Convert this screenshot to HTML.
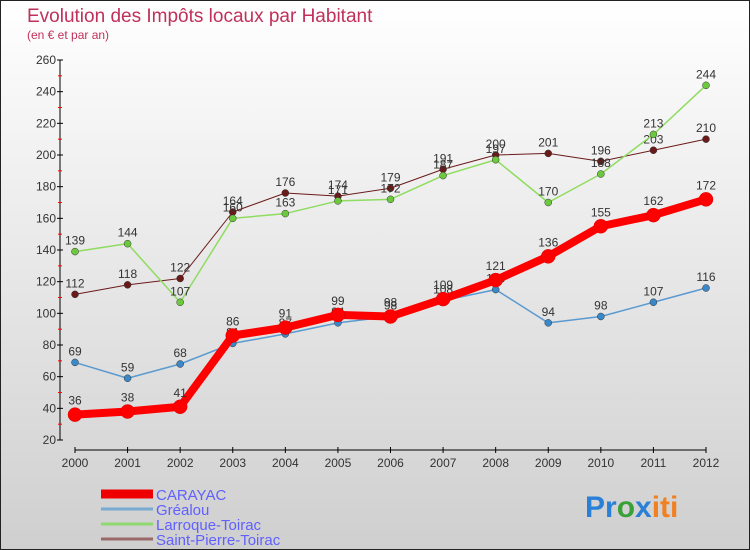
<!DOCTYPE html>
<html><head><meta charset="utf-8"><style>
html,body{margin:0;padding:0}
body{width:750px;height:550px;overflow:hidden;font-family:"Liberation Sans",sans-serif}
#wrap{position:relative;width:748px;height:548px;border:1px solid #222;background:linear-gradient(#ffffff,#cfcfcf)}
svg{position:absolute;left:0;top:0}
</style></head><body>
<div id="wrap">
<svg id="c" width="748" height="548">
<text x="26" y="21" font-size="19" fill="#c0305a">Evolution des Impôts locaux par Habitant</text>
<text x="26" y="38" font-size="12" fill="#c0305a">(en € et par an)</text>
<g id="axes"></g><g id="series"></g><g id="legend"></g>
<text x="584" y="516" font-size="30" font-weight="bold"><tspan fill="#2a7fd6">Pr</tspan><tspan fill="#3aa03a">o</tspan><tspan fill="#2a7fd6">x</tspan><tspan fill="#f08020">iti</tspan></text>
</svg></div>
<script>
const years=[2000,2001,2002,2003,2004,2005,2006,2007,2008,2009,2010,2011,2012];
const yTicks=[20,40,60,80,100,120,140,160,180,200,220,240,260];
const carayac=[36,38,41,86,91,99,98,109,121,136,155,162,172];
const grealou=[69,59,68,81,87,94,98,108,115,94,98,107,116];
const larroque=[139,144,107,160,163,171,172,187,197,170,188,213,244];
const stpierre=[112,118,122,164,176,174,179,191,200,201,196,203,210];
const names=["CARAYAC","Gréalou","Larroque-Toirac","Saint-Pierre-Toirac"];
const NS="http://www.w3.org/2000/svg";
const X=i=>74+i*(631/12);
const Y=v=>59+(260-v)*(380/240);
function mk(t,a,p){const e=document.createElementNS(NS,t);for(const k in a)e.setAttribute(k,a[k]);p.appendChild(e);return e;}
const ax=document.getElementById('axes');
const yl=mk('line',{x1:59,y1:Y(260),x2:59,y2:Y(20),stroke:'#000'},ax);


yTicks.forEach((v,i)=>{
 mk('line',{x1:56,y1:Y(v),x2:62,y2:Y(v),stroke:'#000'},ax);
 if(i<yTicks.length-1) mk('line',{x1:57,y1:Y(v+10),x2:61,y2:Y(v+10),stroke:'#f00'},ax);
 const t=mk('text',{x:55,y:Y(v)+4,'text-anchor':'end','font-size':12,fill:'#333'},ax);
 t.textContent=v;
 
 
});
const xl=mk('line',{x1:X(0),y1:449,x2:X(12),y2:449,stroke:'#000'},ax);


years.forEach((y,i)=>{
 mk('line',{x1:X(i),y1:446,x2:X(i),y2:452,stroke:'#000'},ax);
 const t=mk('text',{x:X(i),y:466,'text-anchor':'middle','font-size':12,fill:'#333'},ax);
 t.textContent=y;
 
 
});
const sg=document.getElementById('series');
const defs=[
 {d:stpierre,c:'#6b1a1a',w:1,r:3.5,n:'saint-pierre-toirac'},
 {d:larroque,c:'#8fdc60',w:1.5,r:3.5,f:'#6cc83c',n:'larroque-toirac'},
 {d:grealou,c:'#5a9ad0',w:1.5,r:3.5,f:'#3a88c8',n:'grealou'},
 {d:carayac,c:'#f00',w:8,r:7,n:'carayac'}];
defs.forEach(s=>{
 const g=mk('g',{},sg);
 
 
 const l=mk('polyline',{points:s.d.map((v,i)=>X(i)+','+Y(v)).join(' '),fill:'none',stroke:s.c,'stroke-width':s.w,'stroke-linejoin':'round'},g);
 
 
 s.d.forEach((v,i)=>{
  const p=mk('circle',{cx:X(i),cy:Y(v),r:s.r,fill:s.f||s.c,stroke:s.n==='carayac'?'#d00':'#333','stroke-width':0.5},g);
  
  
  const t=mk('text',{x:X(i),y:Y(v)-(s.n==='carayac'?10:7),'text-anchor':'middle','font-size':12,fill:'#333'},g);
  t.textContent=v;
  
  
 });
});
const lg=document.getElementById('legend');
const lc=[['#e00',9],['#7aaad0',3],['#90d870',3],['#9a6a6a',3]];
names.forEach((n,i)=>{
 const y=493+i*15;
 const l=mk('line',{x1:100,y1:y,x2:152,y2:y,stroke:lc[i][0],'stroke-width':lc[i][1]},lg);
 
 
 const t=mk('text',{x:155,y:y+6,'font-size':15,fill:'#6060ff'},lg);
 t.textContent=n;
 
 
});
</script>
</body></html>
